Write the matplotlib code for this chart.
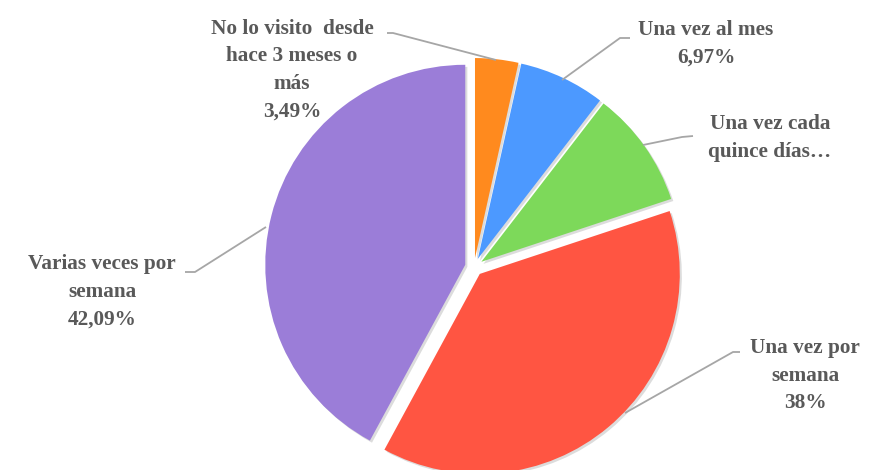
import matplotlib.pyplot as plt

# Frecuencia de visita
categorias = ["No lo visito  desde\nhace 3 meses o\nmás", "Una vez al mes", "Una vez cada\nquince días…",
              "Una vez por\nsemana", "Varias veces por\nsemana"]
porcentajes = [3.49, 6.97, 9.45, 38, 42.09]
mostrar_pct = [True, True, False, True, True]
colores = ["#FF8A1E", "#4C99FF", "#7DD95A", "#FF5542", "#9B7DD8"]


def fmt_pct(v):
    s = f"{v:.2f}".rstrip("0").rstrip(".")
    return s.replace(".", ",") + "%"


W, H = 871, 470
fig = plt.figure(figsize=(W / 100, H / 100), dpi=100)
ax = fig.add_axes([0, 0, 1, 1])

# Pastel en coordenadas de pixel (y hacia arriba); explode va en las mismas unidades
ax.pie(porcentajes, colors=colores, startangle=90, counterclock=False,
       center=(474, H - 267), radius=200, explode=[9] * 5,
       wedgeprops=dict(linewidth=0),
       shadow=dict(ox=1.5, oy=-1.5, facecolor="#8c8c8c", edgecolor="none", alpha=0.3))

ax.set_xlim(0, W)
ax.set_ylim(0, H)
ax.set_aspect("equal")
ax.axis("off")

# Posicion de etiquetas y lineas guia (x, y de la imagen)
pos_texto = [(292, 70), (706, 44), (770, 138), (805, 376), (102, 292)]
guias = [
    [(387, 33), (393, 33), (496, 60)],
    [(630, 38), (620, 38), (562, 80)],
    [(693, 136), (682, 137), (643, 145)],
    [(740, 352), (733, 352), (625, 413)],
    [(185, 272), (195, 272), (266, 227)],
]

for cat, v, show, (tx, ty), g in zip(categorias, porcentajes, mostrar_pct, pos_texto, guias):
    texto = cat + ("\n" + fmt_pct(v) if show else "")
    ax.text(tx, H - ty, texto, ha="center", va="center", fontsize=15.3,
            fontfamily="Liberation Serif", fontweight="bold", color="#595959",
            linespacing=1.5)
    ax.plot([p[0] for p in g], [H - p[1] for p in g], color="#A6A6A6", lw=1.3,
            solid_capstyle="butt")

fig.savefig("out.png", dpi=100)
